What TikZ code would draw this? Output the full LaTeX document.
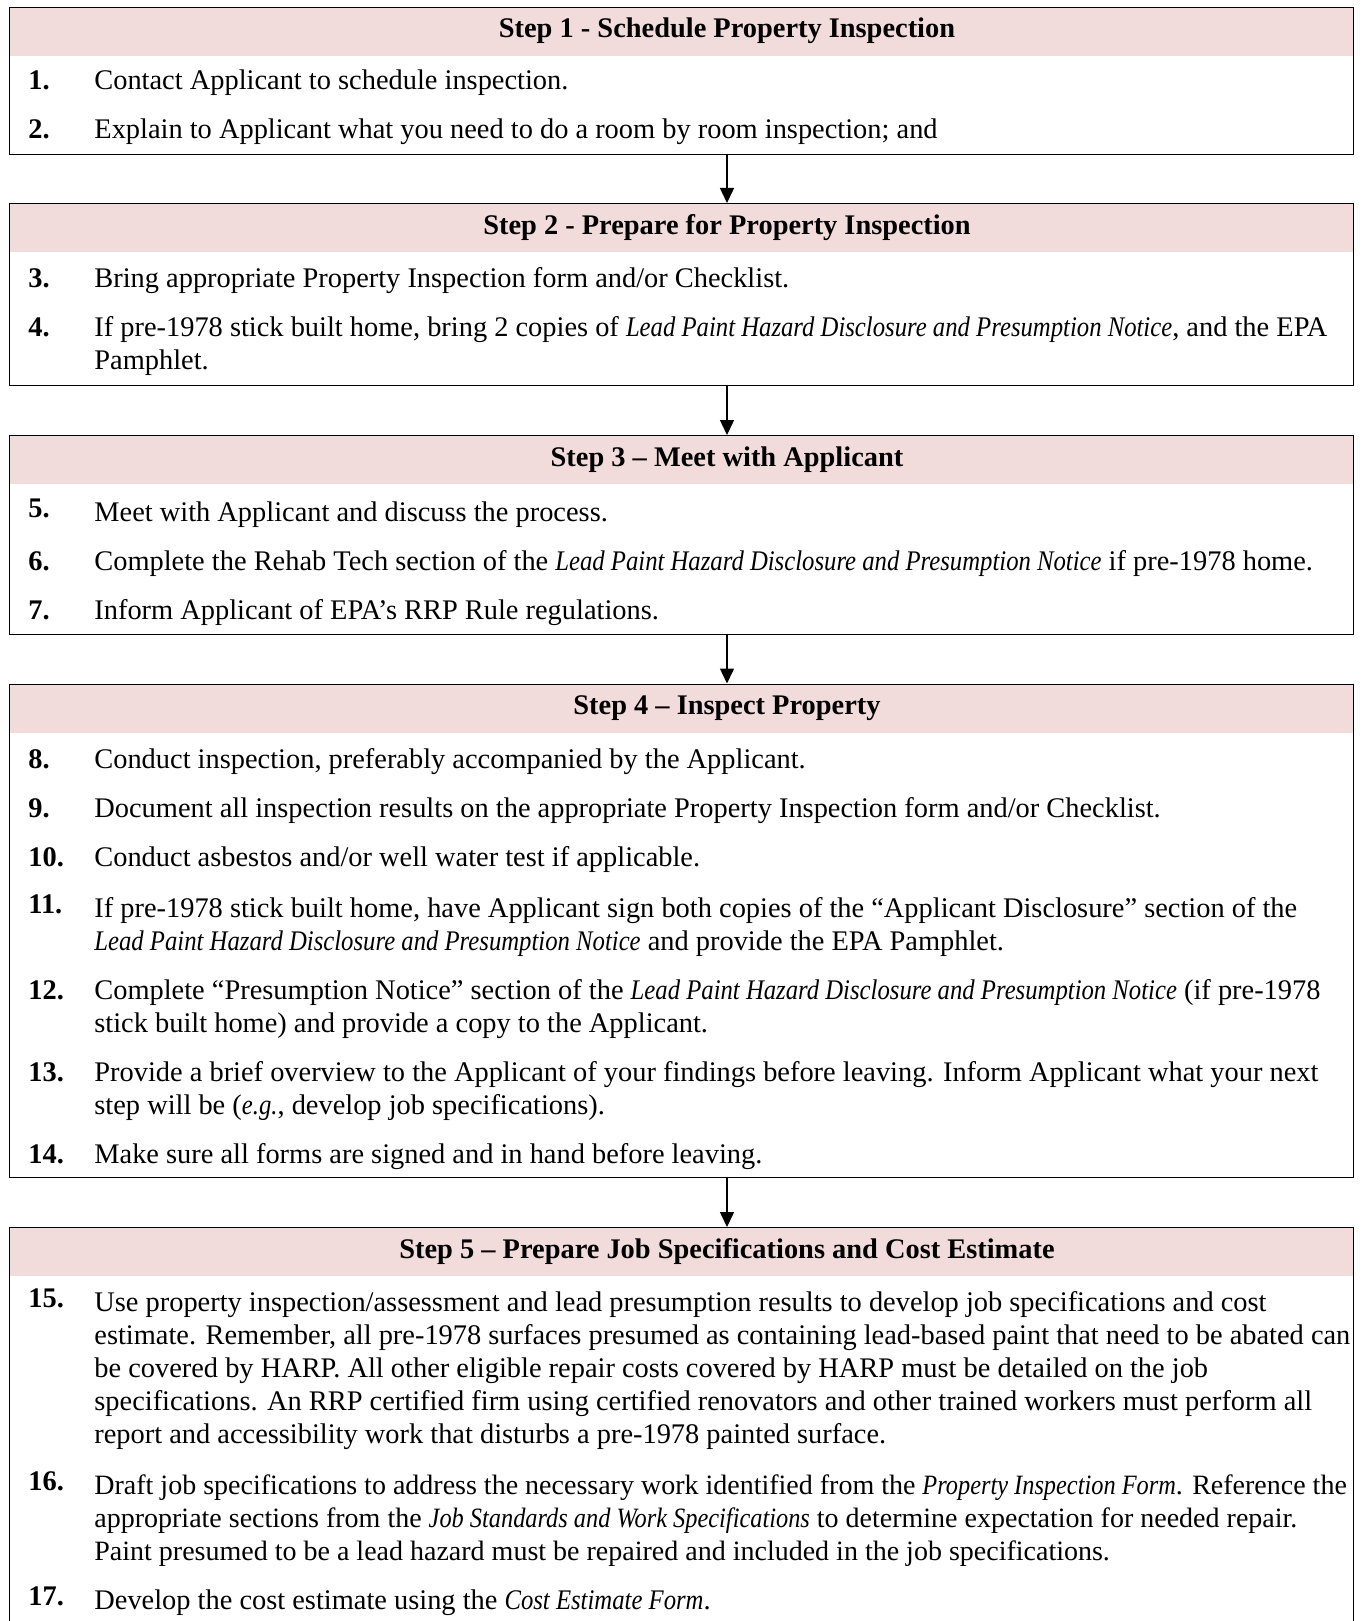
\documentclass[tikz,border=0pt]{standalone}
\usepackage{fontspec}
\setmainfont{Liberation Serif}[ItalicFeatures={FakeStretch=0.87}]
\usetikzlibrary{arrows.meta}
\definecolor{bandpink}{RGB}{242,220,219}

\begin{document}
\begin{tikzpicture}[x=0.5pt, y=-0.5pt]
\tikzstyle{stepbox} = [rectangle, draw=black, line width=0.5pt, minimum width=672.2pt, anchor=north, inner sep=0pt]
\tikzstyle{band} = [rectangle, fill=bandpink, minimum width=672.2pt, minimum height=24.5pt, anchor=north, inner sep=0pt]
\tikzstyle{steptitle} = [inner sep=0pt, font=\fontsize{14.2}{16}\selectfont\bfseries]
\tikzstyle{stepnum} = [anchor=base west, inner sep=0pt, font=\fontsize{14.2}{16.5}\selectfont\bfseries]
% multi-line entries: base anchor sits on the last line
\tikzstyle{entry} = [anchor=base west, inner sep=0pt, align=left, font=\fontsize{14.2}{16.5}\selectfont]
\tikzstyle{arrow} = [line width=0.75pt, -{Triangle[length=7.5pt, width=7pt]}]

\useasboundingbox (0,0) rectangle (1362,1621);
\clip (0,0) rectangle (1362,1621);

% Step 1
\node (band1) [band] at (681.5,7) {};
\node (box1) [stepbox, minimum height=73.5pt] at (681.5,7) {};
\node (h1) [steptitle] at (727,31) {Step 1 - Schedule Property Inspection};
\node (n1) [stepnum] at (28,90) {1.};
\node (t1) [entry] at (94,90) {Contact Applicant to schedule inspection.};
\node (n2) [stepnum] at (28,139) {2.};
\node (t2) [entry] at (94,139) {Explain to Applicant what you need to do a room by room inspection; and};

% Step 2
\node (band2) [band] at (681.5,203) {};
\node (box2) [stepbox, minimum height=90.75pt] at (681.5,203) {};
\node (h2) [steptitle] at (727,227.5) {Step 2 - Prepare for Property Inspection};
\node (n3) [stepnum] at (28,287) {3.};
\node (t3) [entry] at (94,287) {Bring appropriate Property Inspection form and/or Checklist.};
\node (n4) [stepnum] at (28,336) {4.};
\node (t4) [entry] at (94,369) {If pre-1978 stick built home, bring 2 copies of \textit{Lead Paint Hazard Disclosure and Presumption Notice}, and the EPA\\Pamphlet.};

% Step 3
\node (band3) [band] at (681.5,435) {};
\node (box3) [stepbox, minimum height=99.5pt] at (681.5,435) {};
\node (h3) [steptitle] at (727,460) {Step 3 – Meet with Applicant};
\node (n5) [stepnum] at (28,517) {5.};
\node (t5) [entry] at (94,521) {Meet with Applicant and discuss the process.};
\node (n6) [stepnum] at (28,570.5) {6.};
\node (t6) [entry] at (94,570.5) {Complete the Rehab Tech section of the \textit{Lead Paint Hazard Disclosure and Presumption Notice} if pre-1978 home.};
\node (n7) [stepnum] at (28,619) {7.};
\node (t7) [entry] at (94,619) {Inform Applicant of EPA’s RRP Rule regulations.};

% Step 4
\node (band4) [band] at (681.5,683.5) {};
\node (box4) [stepbox, minimum height=246.75pt] at (681.5,683.5) {};
\node (h4) [steptitle] at (727,708) {Step 4 – Inspect Property};
\node (n8) [stepnum] at (28,768) {8.};
\node (t8) [entry] at (94,768) {Conduct inspection, preferably accompanied by the Applicant.};
\node (n9) [stepnum] at (28,817.5) {9.};
\node (t9) [entry] at (94,817.5) {Document all inspection results on the appropriate Property Inspection form and/or Checklist.};
\node (n10) [stepnum] at (28,866) {10.};
\node (t10) [entry] at (94,866) {Conduct asbestos and/or well water test if applicable.};
\node (n11) [stepnum] at (28,913) {11.};
\node (t11) [entry] at (94,950) {If pre-1978 stick built home, have Applicant sign both copies of the “Applicant Disclosure” section of the\\\textit{Lead Paint Hazard Disclosure and Presumption Notice} and provide the EPA Pamphlet.};
\node (n12) [stepnum] at (28,999.5) {12.};
\node (t12) [entry] at (94,1032.5) {Complete “Presumption Notice” section of the \textit{Lead Paint Hazard Disclosure and Presumption Notice} (if pre-1978\\stick built home) and provide a copy to the Applicant.};
\node (n13) [stepnum] at (28,1081) {13.};
\node (t13) [entry] at (94,1114) {Provide a brief overview to the Applicant of your findings before leaving. Inform Applicant what your next\\step will be (\textit{e.g.}, develop job specifications).};
\node (n14) [stepnum] at (28,1163) {14.};
\node (t14) [entry] at (94,1163) {Make sure all forms are signed and in hand before leaving.};

% Step 5
\node (band5) [band] at (681.5,1227) {};
\node (box5) [stepbox, minimum height=216.5pt] at (681.5,1227) {};
\node (h5) [steptitle] at (727,1252) {Step 5 – Prepare Job Specifications and Cost Estimate};
\node (n15) [stepnum] at (28,1307) {15.};
\node (t15) [entry] at (94,1443) {Use property inspection/assessment and lead presumption results to develop job specifications and cost\\estimate. Remember, all pre-1978 surfaces presumed as containing lead-based paint that need to be abated can\\be covered by HARP. All other eligible repair costs covered by HARP must be detailed on the job\\specifications. An RRP certified firm using certified renovators and other trained workers must perform all\\report and accessibility work that disturbs a pre-1978 painted surface.};
\node (n16) [stepnum] at (28,1490) {16.};
\node (t16) [entry, font=\fontsize{14}{16.5}\selectfont] at (94,1560) {Draft job specifications to address the necessary work identified from the \textit{Property Inspection Form}. Reference the\\appropriate sections from the \textit{Job Standards and Work Specifications} to determine expectation for needed repair.\\Paint presumed to be a lead hazard must be repaired and included in the job specifications.};
\node (n17) [stepnum] at (28,1605) {17.};
\node (t17) [entry] at (94,1609) {Develop the cost estimate using the \textit{Cost Estimate Form}.};

\draw [arrow] (box1.south -| h1.center) -- (box2.north -| h1.center);
\draw [arrow] (box2.south -| h2.center) -- (box3.north -| h2.center);
\draw [arrow] (box3.south -| h3.center) -- (box4.north -| h3.center);
\draw [arrow] (box4.south -| h4.center) -- (box5.north -| h4.center);
\end{tikzpicture}
\end{document}
